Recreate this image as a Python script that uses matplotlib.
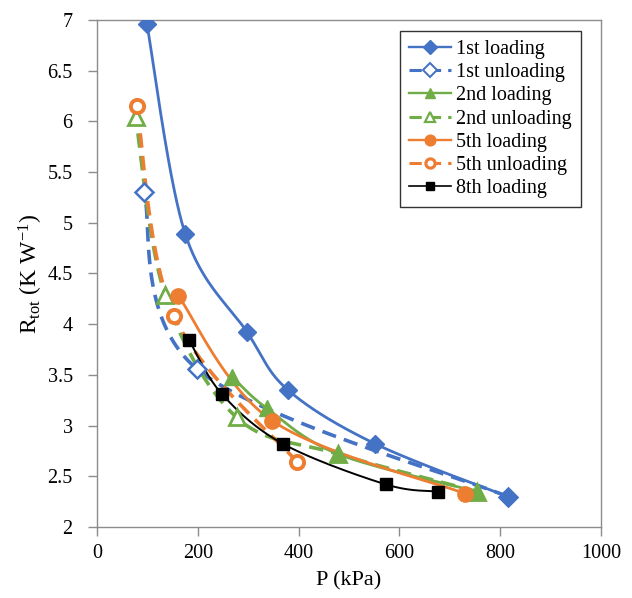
import numpy as np
import matplotlib
matplotlib.use("Agg")
import matplotlib.pyplot as plt
from matplotlib.lines import Line2D

plt.rcParams['font.family'] = ['Liberation Serif', 'DejaVu Serif']
plt.rcParams['mathtext.fontset'] = 'custom'
plt.rcParams['mathtext.rm'] = 'Liberation Serif'
plt.rcParams['mathtext.it'] = 'Liberation Serif:italic'

# pressure (kPa) and total thermal resistance (K/W) per loading cycle
p_load1 = [99, 175, 298, 379, 552, 815]
r_load1 = [6.96, 4.89, 3.92, 3.35, 2.82, 2.30]
p_unload1 = [815, 198, 93]
r_unload1 = [2.30, 3.56, 5.30]
p_load2 = [268, 337, 478, 754]
r_load2 = [3.48, 3.17, 2.72, 2.35]
p_unload2 = [754, 478, 277, 135, 77]
r_unload2 = [2.35, 2.72, 3.08, 4.29, 6.04]
p_load5 = [161, 347, 730]
r_load5 = [4.28, 3.05, 2.33]
p_unload5 = [397, 153, 79]
r_unload5 = [2.64, 4.08, 6.15]
p_load8 = [183, 248, 369, 573, 677]
r_load8 = [3.84, 3.31, 2.82, 2.42, 2.35]

labels = ['1st loading', '1st unloading', '2nd loading', '2nd unloading',
          '5th loading', '5th unloading', '8th loading']

BLUE = '#4472C4'
GREEN = '#70AD47'
ORANGE = '#ED7D31'


def smooth(x, y, n=60):
    # piecewise cubic bezier through the points (spreadsheet-style smoothed line)
    pts = np.column_stack([x, y]).astype(float)
    t = np.linspace(0, 1, n)[:, None]
    segs = []
    for i in range(len(pts) - 1):
        p0 = pts[max(i - 1, 0)]
        p1 = pts[i]
        p2 = pts[i + 1]
        p3 = pts[min(i + 2, len(pts) - 1)]
        c1 = p1 + (p2 - p0) / 6
        c2 = p2 - (p3 - p1) / 6
        segs.append((1 - t) ** 3 * p1 + 3 * (1 - t) ** 2 * t * c1
                    + 3 * (1 - t) * t ** 2 * c2 + t ** 3 * p2)
    c = np.vstack(segs)
    return c[:, 0], c[:, 1]


DASH = (0, (4.0, 2.3))
series = [
    (p_load1, r_load1, dict(color=BLUE, ls='-', lw=2.0),
     dict(marker='D', ms=9.5, mfc=BLUE, mec=BLUE)),
    (p_unload1, r_unload1, dict(color=BLUE, ls=DASH, lw=2.6),
     dict(marker='D', ms=9.5, mfc='white', mec=BLUE, mew=1.8)),
    (p_load2, r_load2, dict(color=GREEN, ls='-', lw=2.0),
     dict(marker='^', ms=11, mfc=GREEN, mec=GREEN)),
    (p_unload2, r_unload2, dict(color=GREEN, ls=DASH, lw=2.6),
     dict(marker='^', ms=11, mfc='white', mec=GREEN, mew=2.0)),
    (p_load5, r_load5, dict(color=ORANGE, ls='-', lw=2.0),
     dict(marker='o', ms=11, mfc=ORANGE, mec=ORANGE)),
    (p_unload5, r_unload5, dict(color=ORANGE, ls=DASH, lw=2.6),
     dict(marker='o', ms=9.5, mfc='white', mec=ORANGE, mew=2.8)),
    (p_load8, r_load8, dict(color='black', ls='-', lw=1.4),
     dict(marker='s', ms=8, mfc='black', mec='black')),
]

fig = plt.figure(figsize=(6.32, 5.98), dpi=100)
ax = fig.add_axes([0.1535, 0.1187, 0.7975, 0.848])

handles = []
for (x, y, lstyle, mstyle), lab in zip(series, labels):
    sx, sy = smooth(x, y)
    ax.plot(sx, sy, zorder=2, **lstyle)
    # filled markers sit above the open ones where cycles share an end point
    mz = 3 if mstyle['mfc'] == 'white' else 4
    ax.plot(x, y, ls='none', zorder=mz, **mstyle)
    leg_m = dict(mstyle)
    leg_m['ms'] = mstyle['ms'] * 0.7
    if 'mew' in leg_m:
        leg_m['mew'] = leg_m['mew'] * 0.8
    handles.append(Line2D([], [], color=lstyle['color'], ls=lstyle['ls'],
                          lw=lstyle['lw'] * 0.85, **leg_m))

ax.set_xlim(0, 1000)
ax.set_ylim(2, 7)
ax.set_xticks(np.arange(0, 1001, 200))
ax.set_yticks(np.arange(2, 7.01, 0.5))
ax.set_yticklabels(['2', '2.5', '3', '3.5', '4', '4.5', '5', '5.5', '6', '6.5', '7'])

for s in ax.spines.values():
    s.set_color('#8c8c8c')
    s.set_linewidth(1.0)
ax.tick_params(direction='out', length=6.5, width=1.0, color='#8c8c8c',
               labelsize=14.5)
ax.tick_params(axis='y', pad=11)
ax.tick_params(axis='x', pad=6)

ax.set_xlabel('P (kPa)', fontsize=16, labelpad=6)
ax.set_ylabel(r'R$_{\mathrm{tot}}$ (K W$^{\mathrm{-1}}$)', fontsize=17, labelpad=2)

leg = ax.legend(handles, labels, loc='upper right', bbox_to_anchor=(0.960, 0.978),
                borderaxespad=0, fontsize=14.5, frameon=True, fancybox=False,
                handlelength=2.1, handletextpad=0.25, labelspacing=0.2,
                borderpad=0.45)
leg.get_frame().set_edgecolor('black')
leg.get_frame().set_linewidth(1.0)

fig.savefig('out.png', dpi=100)
